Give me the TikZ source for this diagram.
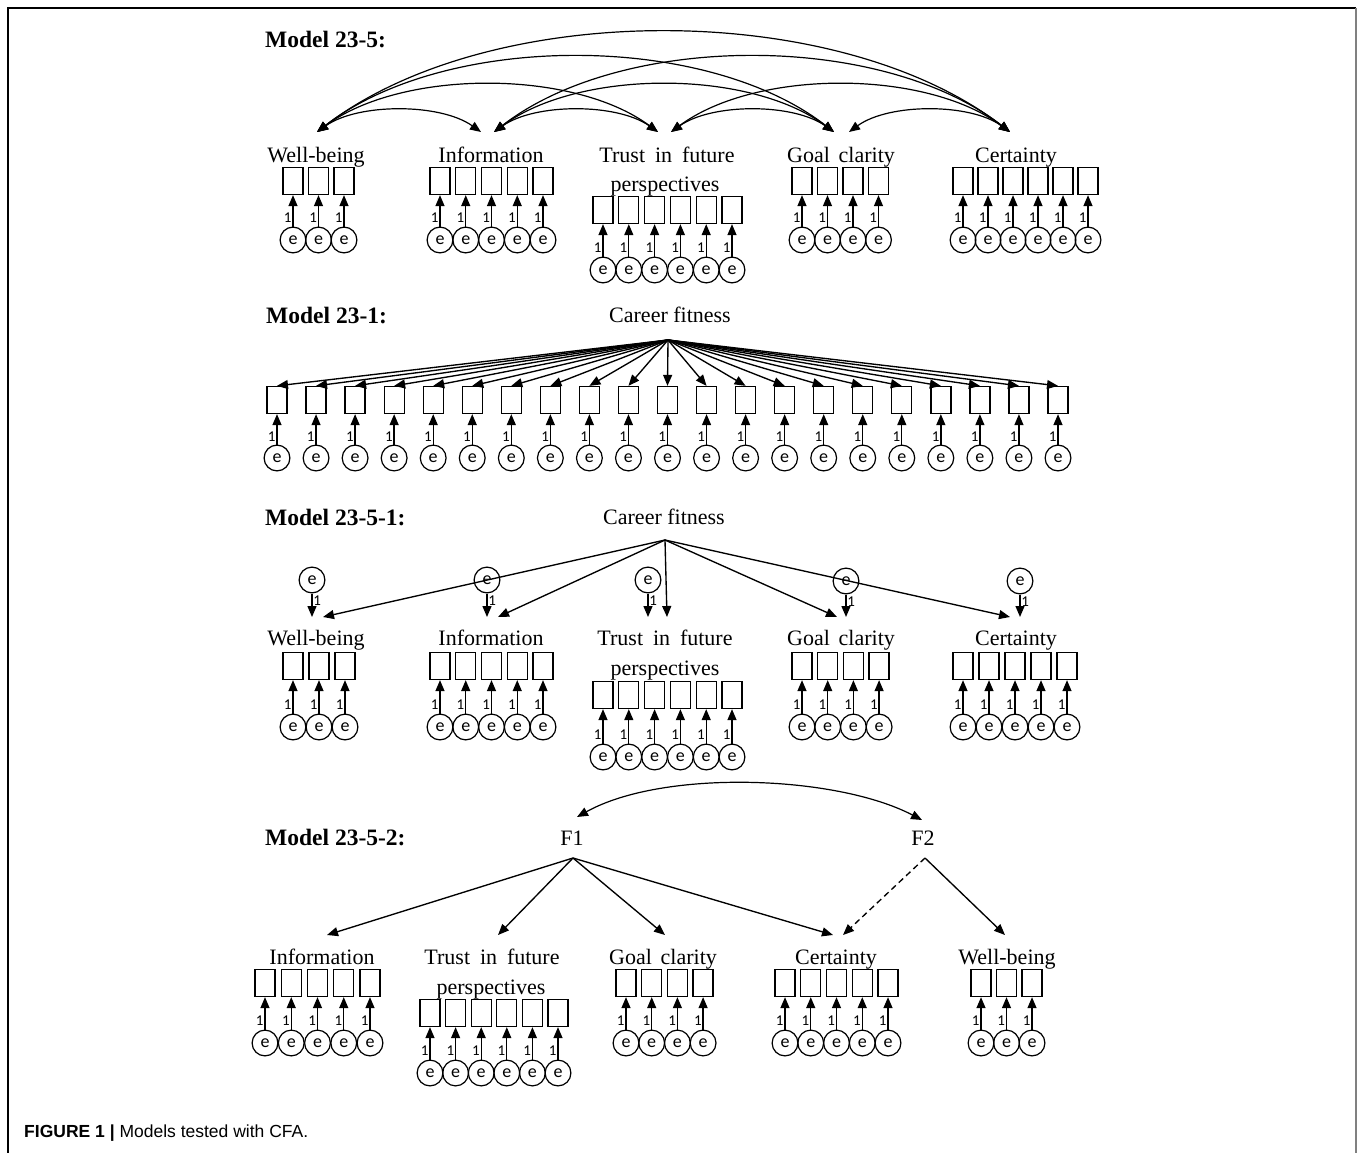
\documentclass[tikz,border=0pt]{standalone}
\usepackage{fontspec}
\setmainfont{Liberation Serif}
\newfontfamily\capfont{Liberation Sans}
\newfontfamily\errfont{Carlito}
\usetikzlibrary{arrows.meta}
\tikzset{
  ind/.style={draw, line width=1.3pt, minimum width=20pt, minimum height=27pt, inner sep=0pt},
  err/.style={draw, circle, line width=1.2pt, minimum size=25.8pt, inner sep=0pt, font=\errfont\fontsize{18}{18}\selectfont},
  arr/.style={line width=1.35pt, -{Triangle[length=11pt,width=9pt]}},
  darr/.style={line width=1.2pt, {Triangle[length=11pt,width=9pt]}-{Triangle[length=11pt,width=9pt]}},
  one/.style={font=\errfont\fontsize{15}{15}\selectfont, inner sep=0.8pt},
  fac/.style={font=\fontsize{22}{30}\selectfont, anchor=base, inner sep=0pt},
  mlab/.style={font=\bfseries\fontsize{23.5}{26}\selectfont, anchor=base west, inner sep=0pt},
}
% #1 prefix, #2 first x, #3 pitch, #4 count, #5 box y, #6 circle y
\newcommand\indrow[6]{%
  \foreach \i [evaluate=\i as \xx using {#2+(\i-1)*#3}] in {1,...,#4}{%
    \node[ind] (#1b\i) at (\xx,#5) {};
    \node[err] (#1e\i) at (\xx,#6) {e};
    \draw[arr] (#1e\i) -- node[one,left,pos=0.27]{1} (#1b\i);
  }%
}
\begin{document}
\begin{tikzpicture}[x=1pt,y=-1pt]
\useasboundingbox (0,0) rectangle (1357,1153);
% frame
\draw[line width=1.5pt] (8,1153) -- (8,8) -- (1356,8);
\draw[line width=1.5pt, gray] (1356,8) -- (1356,1153);

% ================= Model 23-5 =================
\node[mlab] (m1) at (265,48) {Model 23-5:};
\node[fac] (aWB) at (316,162) {Well-being};
\node[fac] (aIN) at (491,162) {Information};
\node[fac] (aTR) at (667,162) {Trust\hspace{0.45em}in\hspace{0.45em}future};
\node[fac] (aTR2) at (665,191) {perspectives};
\node[fac] (aGC) at (841,162) {Goal\hspace{0.4em}clarity};
\node[fac] (aCE) at (1016,162) {Certainty};
\coordinate (tWB) at (317,132);
\coordinate (tINl) at (481,132);
\coordinate (tINr) at (494,132);
\coordinate (tTRl) at (658,132);
\coordinate (tTRr) at (671,132);
\coordinate (tGCl) at (834,132);
\coordinate (tGCr) at (849,132);
\coordinate (tCE) at (1010,132);
\draw[darr] (tWB) .. controls +(41,-29) and +(-41,-29) .. (tINl);
\draw[darr] (tWB) .. controls +(85,-63) and +(-85,-63) .. (tTRl);
\draw[darr] (tWB) .. controls +(129,-100) and +(-129,-100) .. (tGCl);
\draw[darr] (tWB) .. controls +(173,-133) and +(-173,-133) .. (tCE);
\draw[darr] (tINr) .. controls +(41,-29) and +(-41,-29) .. (tTRl);
\draw[darr] (tINr) .. controls +(85,-63) and +(-85,-63) .. (tGCl);
\draw[darr] (tINr) .. controls +(129,-100) and +(-129,-100) .. (tCE);
\draw[darr] (tTRr) .. controls +(41,-29) and +(-41,-29) .. (tGCl);
\draw[darr] (tTRr) .. controls +(85,-63) and +(-85,-63) .. (tCE);
\draw[darr] (tGCr) .. controls +(40,-29) and +(-40,-29) .. (tCE);
\indrow{aWB}{293}{25.5}{3}{181}{240}
\indrow{aIN}{440}{25.75}{5}{181}{240}
\indrow{aTR}{603}{25.8}{6}{210}{270}
\indrow{aGC}{802}{25.5}{4}{181}{240}
\indrow{aCE}{963}{25.0}{6}{181}{240}

% ================= Model 23-1 =================
\node[mlab] (m2) at (266,323) {Model 23-1:};
\node[fac] (cfA) at (670,322) {Career fitness};
\coordinate (cfa) at (668,340);
\indrow{B}{277}{39.05}{21}{400}{458}
\foreach \i in {1,...,21}{\draw[arr] (cfa) -- (Bb\i.north);}

% ================= Model 23-5-1 =================
\node[mlab] (m3) at (265,525) {Model 23-5-1:};
\node[fac] (cfB) at (664,524) {Career fitness};
\coordinate (cfb) at (665,540);
\node[fac] (cWB) at (316,645) {Well-being};
\node[fac] (cIN) at (491,645) {Information};
\node[fac] (cTR) at (665,645) {Trust\hspace{0.45em}in\hspace{0.45em}future};
\node[fac] (cTR2) at (665,675) {perspectives};
\node[fac] (cGC) at (841,645) {Goal\hspace{0.4em}clarity};
\node[fac] (cCE) at (1016,645) {Certainty};
\coordinate (uWB) at (323,617);
\coordinate (uIN) at (498,617);
\coordinate (uTR) at (667,617);
\coordinate (uGC) at (837,617);
\coordinate (uCE) at (1010,617);
\coordinate (vWB) at (312,617);
\coordinate (vIN) at (487,617);
\coordinate (vTR) at (648,617);
\coordinate (vGC) at (846,617);
\coordinate (vCE) at (1020,617);
\node[err] (dWB) at (312,580) {e};
\node[err] (dIN) at (487,580) {e};
\node[err] (dTR) at (648,580) {e};
\node[err] (dGC) at (846,581) {e};
\node[err] (dCE) at (1020,581) {e};
\foreach \f in {WB,IN,TR,GC,CE}{
  \draw[arr] (cfb) -- (u\f);
  \draw[arr] (d\f) -- node[one,right,pos=0.3]{1} (v\f);
}
\indrow{cWB}{293}{26}{3}{666}{727}
\indrow{cIN}{440}{25.75}{5}{666}{727}
\indrow{cTR}{603}{25.8}{6}{695}{757}
\indrow{cGC}{802}{25.7}{4}{666}{727}
\indrow{cCE}{963}{26}{5}{666}{727}

% ================= Model 23-5-2 =================
\node[mlab] (m4) at (265,845) {Model 23-5-2:};
\node[fac] (F1) at (572,845) {F1};
\node[fac] (F2) at (923,845) {F2};
\coordinate (f1t) at (577,817);
\coordinate (f2t) at (922,820);
\coordinate (f1b) at (573,858);
\coordinate (f2b) at (925,858);
\draw[darr] (f1t) .. controls +(86,-48) and +(-86,-45) .. (f2t);
\node[fac] (eIN) at (322,964) {Information};
\node[fac] (eTR) at (492,964) {Trust\hspace{0.45em}in\hspace{0.45em}future};
\node[fac] (eTR2) at (491,994) {perspectives};
\node[fac] (eGC) at (663,964) {Goal\hspace{0.4em}clarity};
\node[fac] (eCE) at (836,964) {Certainty};
\node[fac] (eWB) at (1007,964) {Well-being};
\coordinate (wIN) at (327,935);
\coordinate (wTR) at (498,935);
\coordinate (wGC) at (665,935);
\coordinate (wCEa) at (833,935);
\coordinate (wCEb) at (843,935);
\coordinate (wWB) at (1005,935);
\draw[arr] (f1b) -- (wIN);
\draw[arr] (f1b) -- (wTR);
\draw[arr] (f1b) -- (wGC);
\draw[arr] (f1b) -- (wCEa);
\draw[arr, dashed, dash pattern=on 6pt off 4pt] (f2b) -- (wCEb);
\draw[arr] (f2b) -- (wWB);
\indrow{eIN}{265}{26.25}{5}{983}{1043}
\indrow{eTR}{430}{25.6}{6}{1013}{1073}
\indrow{eGC}{626}{25.7}{4}{983}{1043}
\indrow{eCE}{785}{25.75}{5}{983}{1043}
\indrow{eWB}{981}{25.5}{3}{983}{1043}

% caption
\node[anchor=west, inner sep=0pt, font=\capfont\fontsize{17.5}{20}\selectfont] (cap) at (24,1133) {\textbf{FIGURE 1 |} Models tested with CFA.};
\end{tikzpicture}
\end{document}
